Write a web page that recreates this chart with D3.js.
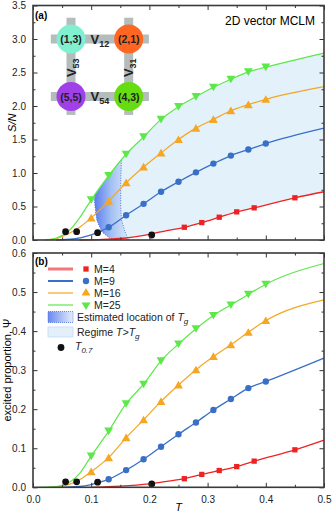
<!DOCTYPE html>
<html>
<head>
<meta charset="utf-8">
<script src="https://cdn.jsdelivr.net/npm/d3@7"></script>
<style>
  html, body { margin: 0; padding: 0; background: #fff; }
  svg { display: block; font-family: 'Liberation Sans', Arial, sans-serif; }
</style>
</head>
<body>
<div id="chart"></div>
<script>
// marker temperatures
const tGrid   = [0.10, 0.13, 0.16, 0.19, 0.22, 0.25, 0.28, 0.31, 0.34, 0.37, 0.40];
const tGrid9  = [0.13, 0.16, 0.19, 0.22, 0.25, 0.28, 0.31, 0.34, 0.37, 0.40];
const tGrid4  = [0.26, 0.29, 0.32, 0.35, 0.38, 0.45];

// (a) entropy S/N
const sn25 = [0.60, 0.96, 1.28, 1.54, 1.80, 1.99, 2.14, 2.28, 2.40, 2.51, 2.58];
const sn16 = [0.33, 0.58, 0.855, 1.09, 1.30, 1.50, 1.67, 1.80, 1.93, 2.02, 2.10];
const sn9  = [0.19, 0.37, 0.54, 0.72, 0.87, 1.01, 1.14, 1.26, 1.35, 1.44];
const sn4  = [0.19, 0.26, 0.34, 0.42, 0.48, 0.63];
// fitted curve pieces outside the markers
const sn25Low = [[0.02, 0], [0.04, 0.03], [0.06, 0.12], [0.08, 0.33]];
const sn16Low = [[0.02, 0], [0.04, 0.02], [0.06, 0.09], [0.08, 0.19]];
const sn9Low  = [[0.04, 0], [0.07, 0.015], [0.10, 0.075]];
const sn4Low  = [[0.08, 0], [0.12, 0.01], [0.16, 0.03], [0.20, 0.085], [0.23, 0.14]];
const snEnd   = { 25: 2.79, 16: 2.29, 9: 1.67, 4: 0.72 };

// (b) excited proportion
const ps25 = [0.080, 0.144, 0.214, 0.264, 0.324, 0.367, 0.406, 0.440, 0.467, 0.494, 0.520];
const ps16 = [0.040, 0.076, 0.127, 0.173, 0.220, 0.262, 0.301, 0.335, 0.365, 0.397, 0.427];
const ps9  = [0.0205, 0.044, 0.072, 0.104, 0.136, 0.166, 0.198, 0.226, 0.254, 0.271];
const ps4  = [0.022, 0.033, 0.043, 0.053, 0.067, 0.096];
const ps25Low = [[0.01, 0], [0.04, 0.002], [0.064, 0.014], [0.081, 0.037]];
const ps16Low = [[0.03, 0], [0.05, 0.003], [0.07, 0.012], [0.085, 0.024]];
const ps9Low  = [[0.05, 0], [0.08, 0.002], [0.10, 0.007], [0.115, 0.013]];
const ps4Low  = [[0.10, 0], [0.15, 0.003], [0.20, 0.009], [0.23, 0.015]];
const psEnd   = { 25: 0.573, 16: 0.48, 9: 0.331, 4: 0.121 };

// T_0.7 points
const t07T  = [0.056, 0.075, 0.111, 0.204];
const t07Sn = [0.124, 0.124, 0.11, 0.075];
const t07Ps = [0.014, 0.014, 0.013, 0.0085];

// estimated location of Tg (boundaries in T, S/N)
const tgLeft  = [[0.144, 0], [0.132, 0.025], [0.118, 0.124], [0.1095, 0.30], [0.1065, 0.50], [0.1048, 0.70], [0.104, 3.5]];
const tgRight = [[0.164, 0], [0.158, 0.124], [0.152, 0.30], [0.1507, 0.50], [0.1507, 0.90], [0.152, 1.19], [0.153, 3.5]];

const series = [
  { m : 4,  color : '#ee2222', legColor : '#f07878', legWidth : 3,   width : 1.3, shape : d3.symbolSquare,   size : 28, ts : tGrid4, sn : sn4,  snLow : sn4Low,  ps : ps4,  psLow : ps4Low },
  { m : 9,  color : '#3a6fc8', legColor : '#3a6fc8', legWidth : 2,   width : 1.3, shape : d3.symbolCircle,   size : 32, ts : tGrid9, sn : sn9,  snLow : sn9Low,  ps : ps9,  psLow : ps9Low },
  { m : 16, color : '#f5a623', legColor : '#f5a623', legWidth : 1.2, width : 1.2, shape : d3.symbolTriangle, size : 34, ts : tGrid,  sn : sn16, snLow : sn16Low, ps : ps16, psLow : ps16Low },
  { m : 25, color : '#5de84a', legColor : '#5de84a', legWidth : 1.2, width : 1.2, shape : d3.symbolTriangle, size : 34, ts : tGrid,  sn : sn25, snLow : sn25Low, ps : ps25, psLow : ps25Low, flip : true }
];

// inset lattice
const nodes = [
  { label : '(1,3)', col : 0, row : 0, color : '#80f0d0' },
  { label : '(2,1)', col : 1, row : 0, color : '#ff6622' },
  { label : '(5,5)', col : 0, row : 1, color : '#a040e8' },
  { label : '(4,3)', col : 1, row : 1, color : '#66dd11' }
];
const bonds = [
  { label : '12', col : 0.5, row : 0, rot : 0 },
  { label : '54', col : 0.5, row : 1, rot : 0 },
  { label : '53', col : 0,   row : 0.5, rot : -90 },
  { label : '31', col : 1,   row : 0.5, rot : -90 }
];

const W = 332, H = 512;
const x    = d3.scaleLinear( [0, 0.5], [33, 324] );
const yTop = d3.scaleLinear( [0, 3.5], [240, 5.5] );
const yBot = d3.scaleLinear( [0, 0.6], [487.3, 253] );

const svg = d3.select( '#chart' ).append( 'svg' )
  .attr( 'width', W ).attr( 'height', H );

const defs = svg.append( 'defs' );
const grad = defs.append( 'linearGradient' ).attr( 'id', 'tgGrad' )
  .attr( 'x1', '0%' ).attr( 'x2', '100%' ).attr( 'y1', '0%' ).attr( 'y2', '0%' );
grad.append( 'stop' ).attr( 'offset', '0%' ).attr( 'stop-color', '#5479ec' );
grad.append( 'stop' ).attr( 'offset', '50%' ).attr( 'stop-color', '#a2bff4' );
grad.append( 'stop' ).attr( 'offset', '100%' ).attr( 'stop-color', '#dcebfa' );
const lgrad = defs.append( 'linearGradient' ).attr( 'id', 'legGrad' )
  .attr( 'x1', '0%' ).attr( 'x2', '100%' );
lgrad.append( 'stop' ).attr( 'offset', '0%' ).attr( 'stop-color', '#6a88ee' );
lgrad.append( 'stop' ).attr( 'offset', '100%' ).attr( 'stop-color', '#e3eefb' );

const curvePts = ( low, ts, vals, end ) =>
  low.concat( ts.map( ( t, i ) => [t, vals[i]] ) ).concat( [[0.5, end]] );

const lineFor = y => d3.line().x( d => x( d[0] ) ).y( d => y( d[1] ) ).curve( d3.curveMonotoneX );

// ---------- panel (a) ----------
const gA = svg.append( 'g' );
const green = series[3];
const greenPts = curvePts( green.snLow, green.ts, green.sn, snEnd[25] );

defs.append( 'clipPath' ).attr( 'id', 'underGreen' ).append( 'path' )
  .attr( 'd', d3.area().x( d => x( d[0] ) ).y0( yTop( 0 ) ).y1( d => yTop( d[1] ) )
    .curve( d3.curveMonotoneX )( greenPts ) );

const poly = d3.line().x( d => x( d[0] ) ).y( d => yTop( d[1] ) );

// regime T > Tg
const regime = tgRight.concat( [[0.5, 3.5], [0.5, 0]] );
gA.append( 'path' ).attr( 'clip-path', 'url(#underGreen)' )
  .attr( 'd', poly( regime ) + 'Z' ).attr( 'fill', '#e3f1fb' );
// white below red curve
const red = series[0];
const redPts = curvePts( red.snLow, red.ts, red.sn, snEnd[4] );
gA.append( 'path' )
  .attr( 'd', d3.area().x( d => x( d[0] ) ).y0( yTop( 0 ) ).y1( d => yTop( d[1] ) )
    .curve( d3.curveMonotoneX )( redPts ) )
  .attr( 'fill', '#fff' );

// estimated Tg band
const band = tgLeft.concat( tgRight.slice().reverse() );
gA.append( 'path' ).attr( 'clip-path', 'url(#underGreen)' )
  .attr( 'd', poly( band ) + 'Z' ).attr( 'fill', 'url(#tgGrad)' );
[tgLeft, tgRight].forEach( b => {
  gA.append( 'path' ).attr( 'clip-path', 'url(#underGreen)' )
    .attr( 'd', poly( b ) ).attr( 'fill', 'none' )
    .attr( 'stroke', '#4a6fe0' ).attr( 'stroke-width', 1 ).attr( 'stroke-dasharray', '1,1.5' );
} );

const drawSeries = ( g, y, key, lowKey, ends ) => {
  series.forEach( s => {
    const pts = curvePts( s[lowKey], s.ts, s[key], ends[s.m] );
    g.append( 'path' ).attr( 'd', lineFor( y )( pts ) )
      .attr( 'fill', 'none' ).attr( 'stroke', s.color ).attr( 'stroke-width', s.width );
  } );
  series.forEach( s => {
    g.selectAll( null ).data( s.ts.map( ( t, i ) => [t, s[key][i]] ) ).enter()
      .append( 'path' )
      .attr( 'd', d3.symbol( s.shape, s.size ) )
      .attr( 'transform', d => `translate(${x( d[0] )},${y( d[1] ) + ( s.shape === d3.symbolTriangle ? ( s.flip ? -1 : 1 ) : 0 )})` + ( s.flip ? ' rotate(180)' : '' ) )
      .attr( 'fill', s.color );
  } );
};

drawSeries( gA, yTop, 'sn', 'snLow', snEnd );
gA.selectAll( null ).data( t07T ).enter().append( 'circle' )
  .attr( 'cx', d => x( d ) ).attr( 'cy', ( d, i ) => yTop( t07Sn[i] ) )
  .attr( 'r', 3.4 ).attr( 'fill', '#111' );

// ---------- panel (b) ----------
const gB = svg.append( 'g' );
drawSeries( gB, yBot, 'ps', 'psLow', psEnd );
gB.selectAll( null ).data( t07T ).enter().append( 'circle' )
  .attr( 'cx', d => x( d ) ).attr( 'cy', ( d, i ) => yBot( t07Ps[i] ) )
  .attr( 'r', 3.4 ).attr( 'fill', '#111' );

// ---------- axes ----------
const xMajor = d3.range( 0, 0.5001, 0.1 );
const xMinor = d3.range( 0.05, 0.5, 0.1 );

const addAxes = ( y, yMajor, yMinor, showX ) => {
  const [yb, yt] = y.range();
  const ax = svg.append( 'g' ).attr( 'class', 'axes' );
  ax.append( 'g' ).attr( 'transform', `translate(0,${yb})` )
    .call( d3.axisBottom( x ).tickValues( xMajor ).tickSize( -4.5 ).tickPadding( 9 )
      .tickFormat( showX ? d3.format( '.1f' ) : '' ) );
  ax.append( 'g' ).attr( 'transform', `translate(0,${yb})` )
    .call( d3.axisBottom( x ).tickValues( xMinor ).tickSize( -2.5 ).tickFormat( '' ) );
  ax.append( 'g' ).attr( 'transform', `translate(0,${yt})` )
    .call( d3.axisTop( x ).tickValues( xMajor ).tickSize( -4.5 ).tickFormat( '' ) );
  ax.append( 'g' ).attr( 'transform', `translate(0,${yt})` )
    .call( d3.axisTop( x ).tickValues( xMinor ).tickSize( -2.5 ).tickFormat( '' ) );
  ax.append( 'g' ).attr( 'transform', `translate(${x( 0 )},0)` )
    .call( d3.axisLeft( y ).tickValues( yMajor ).tickSize( -4.5 ).tickPadding( 7 )
      .tickFormat( d3.format( '.1f' ) ) );
  ax.append( 'g' ).attr( 'transform', `translate(${x( 0 )},0)` )
    .call( d3.axisLeft( y ).tickValues( yMinor ).tickSize( -2.5 ).tickFormat( '' ) );
  ax.append( 'g' ).attr( 'transform', `translate(${x( 0.5 )},0)` )
    .call( d3.axisRight( y ).tickValues( yMajor ).tickSize( -4.5 ).tickFormat( '' ) );
  ax.append( 'g' ).attr( 'transform', `translate(${x( 0.5 )},0)` )
    .call( d3.axisRight( y ).tickValues( yMinor ).tickSize( -2.5 ).tickFormat( '' ) );
  ax.selectAll( '.domain' ).remove();
  ax.selectAll( '.tick line' ).attr( 'stroke', '#333' );
  ax.selectAll( 'text' ).attr( 'font-size', 10 ).attr( 'fill', '#222' )
    .attr( 'font-family', "'Liberation Sans', Arial, sans-serif" );
  ax.append( 'rect' ).attr( 'x', x( 0 ) ).attr( 'y', yt )
    .attr( 'width', x( 0.5 ) - x( 0 ) ).attr( 'height', yb - yt )
    .attr( 'fill', 'none' ).attr( 'stroke', '#3a3a3a' ).attr( 'stroke-width', 1.6 );
};

addAxes( yTop, d3.range( 0, 3.501, 0.5 ), d3.range( 0.25, 3.5, 0.5 ), false );
addAxes( yBot, d3.range( 0, 0.601, 0.1 ), d3.range( 0.05, 0.6, 0.1 ), true );

// axis titles
svg.append( 'text' ).attr( 'transform', `translate(16,${yTop( 1.75 )}) rotate(-90)` )
  .attr( 'text-anchor', 'middle' ).attr( 'font-size', 11 ).attr( 'font-style', 'italic' )
  .text( 'S/N' );
svg.append( 'text' ).attr( 'transform', `translate(11,${yBot( 0.3 )}) rotate(-90)` )
  .attr( 'text-anchor', 'middle' ).attr( 'font-size', 11 )
  .text( 'excited proportion, Ψ' );
svg.append( 'text' ).attr( 'x', x( 0.25 ) ).attr( 'y', 511 )
  .attr( 'text-anchor', 'middle' ).attr( 'font-size', 11 ).attr( 'font-style', 'italic' )
  .text( 'T' );

svg.append( 'text' ).attr( 'x', 35 ).attr( 'y', 18.5 )
  .attr( 'font-size', 10 ).attr( 'font-weight', 'bold' ).text( '(a)' );
svg.append( 'text' ).attr( 'x', 35 ).attr( 'y', 265 )
  .attr( 'font-size', 10 ).attr( 'font-weight', 'bold' ).text( '(b)' );
svg.append( 'text' ).attr( 'x', 315 ).attr( 'y', 25 ).attr( 'text-anchor', 'end' )
  .attr( 'font-size', 12 ).text( '2D vector MCLM' );

// ---------- inset lattice ----------
const gx = d3.scaleLinear( [0, 1], [71, 128.7] );
const gy = d3.scaleLinear( [0, 1], [39, 96.5] );
const inset = svg.append( 'g' );
[0, 1].forEach( r => {
  inset.append( 'rect' ).attr( 'x', gx( -0.35 ) ).attr( 'y', gy( r ) - 4.5 )
    .attr( 'width', gx( 1.35 ) - gx( -0.35 ) ).attr( 'height', 9 ).attr( 'fill', '#b4bcbc' );
} );
[0, 1].forEach( c => {
  inset.append( 'rect' ).attr( 'x', gx( c ) - 4.5 ).attr( 'y', gy( -0.37 ) )
    .attr( 'width', 9 ).attr( 'height', gy( 1.32 ) - gy( -0.37 ) ).attr( 'fill', '#b4bcbc' );
} );
inset.selectAll( null ).data( nodes ).enter().append( 'circle' )
  .attr( 'cx', d => gx( d.col ) ).attr( 'cy', d => gy( d.row ) ).attr( 'r', 14.5 )
  .attr( 'fill', d => d.color );
inset.selectAll( null ).data( nodes ).enter().append( 'text' )
  .attr( 'x', d => gx( d.col ) ).attr( 'y', d => gy( d.row ) + 4 )
  .attr( 'text-anchor', 'middle' ).attr( 'font-size', 10.5 ).attr( 'font-weight', 'bold' )
  .attr( 'fill', '#222' ).text( d => d.label );
const bl = inset.selectAll( null ).data( bonds ).enter().append( 'text' )
  .attr( 'transform', d => `translate(${gx( d.col ) + ( d.rot ? 4.5 : 0 )},${gy( d.row ) + ( d.rot ? 0 : 4.5 )}) rotate(${d.rot})` )
  .attr( 'text-anchor', 'middle' ).attr( 'font-weight', 'bold' ).attr( 'fill', '#222' );
bl.append( 'tspan' ).attr( 'font-size', 13 ).text( 'V' );
bl.append( 'tspan' ).attr( 'font-size', 9 ).attr( 'dy', 3 ).text( d => d.label );

// ---------- legend (b) ----------
const leg = svg.append( 'g' );
const legY = d3.scaleLinear( [0, 3], [269, 305] );
series.forEach( ( s, i ) => {
  const yy = legY( i );
  leg.append( 'line' ).attr( 'x1', 48 ).attr( 'x2', 73 ).attr( 'y1', yy ).attr( 'y2', yy )
    .attr( 'stroke', s.legColor ).attr( 'stroke-width', s.legWidth );
  leg.append( 'path' ).attr( 'd', d3.symbol( s.shape, s.size ) )
    .attr( 'transform', `translate(86,${yy})` + ( s.flip ? ' rotate(180)' : '' ) )
    .attr( 'fill', s.color );
  leg.append( 'text' ).attr( 'x', 94 ).attr( 'y', yy + 4 ).attr( 'font-size', 10.5 )
    .attr( 'fill', '#222' ).text( 'M=' + s.m );
} );
leg.append( 'rect' ).attr( 'x', 48 ).attr( 'y', 311.5 ).attr( 'width', 25 ).attr( 'height', 11 )
  .attr( 'fill', 'url(#legGrad)' ).attr( 'stroke', '#4a6fe0' ).attr( 'stroke-width', 0.8 )
  .attr( 'stroke-dasharray', '1,1' );
const t1 = leg.append( 'text' ).attr( 'x', 77 ).attr( 'y', 321 ).attr( 'font-size', 10.5 ).attr( 'fill', '#222' );
t1.append( 'tspan' ).text( 'Estimated location of ' );
t1.append( 'tspan' ).attr( 'font-style', 'italic' ).text( 'T' );
t1.append( 'tspan' ).attr( 'font-style', 'italic' ).attr( 'font-size', 8 ).attr( 'dy', 2.5 ).text( 'g' );
leg.append( 'rect' ).attr( 'x', 48 ).attr( 'y', 327 ).attr( 'width', 25 ).attr( 'height', 10 )
  .attr( 'fill', '#e3f0fb' ).attr( 'stroke', '#c4daf2' ).attr( 'stroke-width', 0.8 );
const t2 = leg.append( 'text' ).attr( 'x', 77 ).attr( 'y', 336 ).attr( 'font-size', 10.5 ).attr( 'fill', '#222' );
t2.append( 'tspan' ).text( 'Regime ' );
t2.append( 'tspan' ).attr( 'font-style', 'italic' ).text( 'T>T' );
t2.append( 'tspan' ).attr( 'font-style', 'italic' ).attr( 'font-size', 8 ).attr( 'dy', 2.5 ).text( 'g' );
leg.append( 'circle' ).attr( 'cx', 61 ).attr( 'cy', 347.5 ).attr( 'r', 3.4 ).attr( 'fill', '#111' );
const t3 = leg.append( 'text' ).attr( 'x', 75 ).attr( 'y', 350 ).attr( 'font-size', 10.5 )
  .attr( 'font-style', 'italic' ).attr( 'fill', '#222' );
t3.append( 'tspan' ).text( 'T' );
t3.append( 'tspan' ).attr( 'font-size', 8 ).attr( 'dy', 2.5 ).text( '0.7' );
</script>
</body>
</html>
